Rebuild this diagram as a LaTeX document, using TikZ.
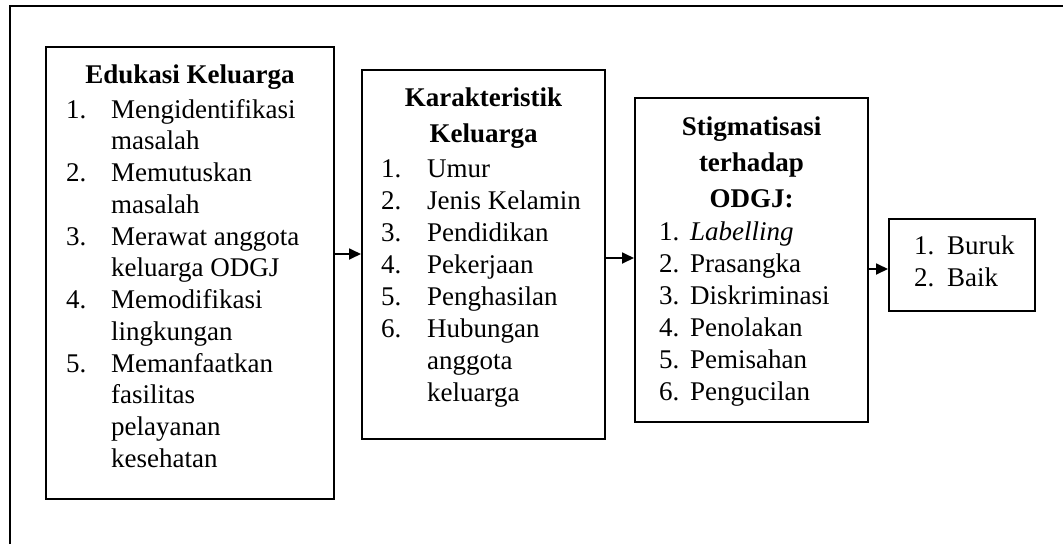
\documentclass[tikz,border=0pt]{standalone}
\usepackage{fontspec}
\setmainfont{Liberation Serif}
\usetikzlibrary{arrows.meta}
\tikzset{
  box/.style={draw, line width=2pt, inner sep=0pt},
  txt/.style={inner sep=0pt, anchor=base west, font=\fontsize{27}{32}\selectfont},
  ttl/.style={inner sep=0pt, anchor=base, font=\fontsize{27}{32}\selectfont\bfseries},
  arr/.style={line width=1.8pt, -{Triangle[length=12pt,width=11pt]}},
  frame/.style={line width=2.4pt}
}
\begin{document}
\begin{tikzpicture}[x=1pt,y=-1pt]
\useasboundingbox (0,0) rectangle (1063,544);
\draw[frame] (10,544) -- (10,6) -- (1063,6);
% boxes
\node[box, minimum width=288pt, minimum height=452pt] (b1) at (190,273) {};
\node[box, minimum width=243pt, minimum height=369pt] (b2) at (483.5,254.5) {};
\node[box, minimum width=233pt, minimum height=324pt] (b3) at (751.5,260) {};
\node[box, minimum width=146pt, minimum height=92pt] (b4) at (962,265) {};
% box 1
\node[ttl] (t1) at (190,83) {Edukasi Keluarga};
\foreach \n/\k in {1/0,2/2,3/4,4/6,5/8}
  \node[txt] (n1\n) at (66,{118+\k*31.75}) {\n.};
\foreach \t [count=\i from 0] in {Mengidentifikasi,masalah,Memutuskan,masalah,Merawat anggota,keluarga ODGJ,Memodifikasi,lingkungan,Memanfaatkan,fasilitas,pelayanan,kesehatan}
  \node[txt] (l1\i) at (111,{118+\i*31.75}) {\t};
% box 2
\node[ttl] (t2a) at (483.5,106) {Karakteristik};
\node[ttl] (t2b) at (483.5,142) {Keluarga};
\foreach \n/\k in {1/0,2/1,3/2,4/3,5/4,6/5}
  \node[txt] (n2\n) at (381,{177+\k*32}) {\n.};
\foreach \t [count=\i from 0] in {Umur,Jenis Kelamin,Pendidikan,Pekerjaan,Penghasilan,Hubungan,anggota,keluarga}
  \node[txt] (l2\i) at (427,{177+\i*32}) {\t};
% box 3
\node[ttl] (t3a) at (751.5,135) {Stigmatisasi};
\node[ttl] (t3b) at (751.5,171) {terhadap};
\node[ttl] (t3c) at (751.5,207) {ODGJ:};
\foreach \n/\k in {1/0,2/1,3/2,4/3,5/4,6/5}
  \node[txt] (n3\n) at (659,{240+\k*32}) {\n.};
\foreach \t [count=\i from 0] in {\textit{Labelling},Prasangka,Diskriminasi,Penolakan,Pemisahan,Pengucilan}
  \node[txt] (l3\i) at (690,{240+\i*32}) {\t};
% box 4
\node[txt] (n41) at (914,254) {1.};
\node[txt] (n42) at (914,286) {2.};
\node[txt] (l41) at (947,254) {Buruk};
\node[txt] (l42) at (947,286) {Baik};
% arrows
\draw[arr] (b1.east |- 0,254) -- (b2.west |- 0,254);
\draw[arr] (b2.east |- 0,258) -- (b3.west |- 0,258);
\draw[arr] (b3.east |- 0,269) -- (b4.west |- 0,269);
\end{tikzpicture}
\end{document}
